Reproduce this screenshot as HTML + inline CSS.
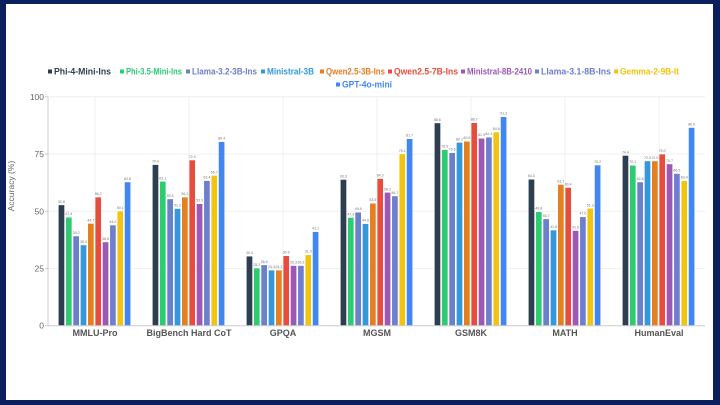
<!DOCTYPE html>
<html><head><meta charset="utf-8"><style>
html,body{margin:0;padding:0;background:#0b1f5e;}
svg{display:block;font-family:"Liberation Sans",sans-serif;}
</style></head><body>
<svg width="720" height="405" viewBox="0 0 720 405" xmlns="http://www.w3.org/2000/svg">
<rect x="0" y="0" width="720" height="405" fill="#0b1f5e"/>
<rect x="6" y="4" width="707" height="396" fill="#ffffff"/>
<g id="grid" stroke="#ececec" stroke-width="0.8"></g>
<g id="bars"></g>
<g id="legend" font-size="9" font-weight="bold"></g>
<text x="14" y="186" transform="rotate(-90 14 186)" text-anchor="middle" font-size="8.5" fill="#666">Accuracy (%)</text>
<script>
const ns="http://www.w3.org/2000/svg";
function el(p,t,a,txt){const e=document.createElementNS(ns,t);for(const k in a)e.setAttribute(k,a[k]);if(txt!==undefined)e.textContent=txt;p.appendChild(e);return e;}
const svg=document.querySelector('svg');
const grid=document.getElementById('grid'),bars=document.getElementById('bars'),leg=document.getElementById('legend');
const y0=325.7,k=2.289,L=48,R=705;
for(let v=0;v<=100;v+=25){const y=y0-v*k;
 if(v>0) el(grid,'line',{x1:L,x2:R,y1:y,y2:y});
 el(svg,'text',{x:44,y:y+3,'text-anchor':'end','font-size':'8.5',fill:'#666'},String(v));
 el(svg,'line',{x1:L-3,x2:L,y1:y,y2:y,stroke:'#ccc'});}
for(let i=0;i<7;i++){el(grid,'line',{x1:L+47+i*94,x2:L+47+i*94,y1:97,y2:y0});}
el(svg,'line',{x1:L,x2:L,y1:97,y2:y0,stroke:'#ccc'});
el(svg,'line',{x1:L,x2:R,y1:y0,y2:y0,stroke:'#ccc'});
const colors=['#2c3e50','#2ecc71','#6a80c8','#3498db','#e67e22','#e74c3c','#9b59b6','#6f7fcf','#f1c40f','#4286f0'];
const cats=['MMLU-Pro','BigBench Hard CoT','GPQA','MGSM','GSM8K','MATH','HumanEval'];
const data=[
[52.8,47.4,39.2,35.3,44.7,56.2,36.6,44.0,50.1,62.8],
[70.4,63.1,55.4,51.2,56.2,72.4,53.3,63.4,65.7,80.4],
[30.4,25.2,26.6,24.3,24.3,30.6,26.3,26.3,31.0,41.1],
[63.9,47.3,49.6,44.6,53.5,64.3,58.3,56.7,75.1,81.7],
[88.6,76.9,75.6,80.1,80.6,88.7,81.9,82.4,84.6,91.3],
[64.0,49.8,46.7,41.8,61.7,60.4,41.6,47.6,51.3,70.2],
[74.4,70.1,62.8,72.0,72.0,75.0,70.7,66.5,63.4,86.6]];
data.forEach((row,c)=>{const cx=L+47+c*94;const start=cx-36.7;
 row.forEach((v,i)=>{const x=start+i*7.35;const h=v*k;
  el(bars,'rect',{x:x,y:y0-h,width:6.3,height:h,fill:colors[i],stroke:'#fff','stroke-width':0.6});
  el(bars,'text',{x:x+3.15,y:y0-h-2,'text-anchor':'middle','font-size':'3.6',fill:'#777'},v.toFixed(1));});
 el(svg,'text',{x:cx,y:336,'text-anchor':'middle','font-size':'9','font-weight':'bold',fill:'#555'},cats[c]);});
const lg=[['Phi-4-Mini-Ins',48,111,72],['Phi-3.5-Mini-Ins',120,182,72],['Llama-3.2-3B-Ins',186,257,72],['Ministral-3B',261,314,72],['Qwen2.5-3B-Ins',320,385,72],['Qwen2.5-7B-Ins',388,458,72],['Ministral-8B-2410',461,532,72],['Llama-3.1-8B-Ins',535,611,72],['Gemma-2-9B-It',614,679,72],['GPT-4o-mini',336,392,85]];
lg.forEach((d,i)=>{el(leg,'rect',{x:d[1],y:d[3]-2.5,width:4,height:4,fill:colors[i]});
 el(leg,'text',{x:d[1]+6,y:d[3]+2.5,fill:colors[i],textLength:d[2]-d[1]-6,lengthAdjust:'spacingAndGlyphs'},d[0]);});
</script>
</svg>
</body></html>
